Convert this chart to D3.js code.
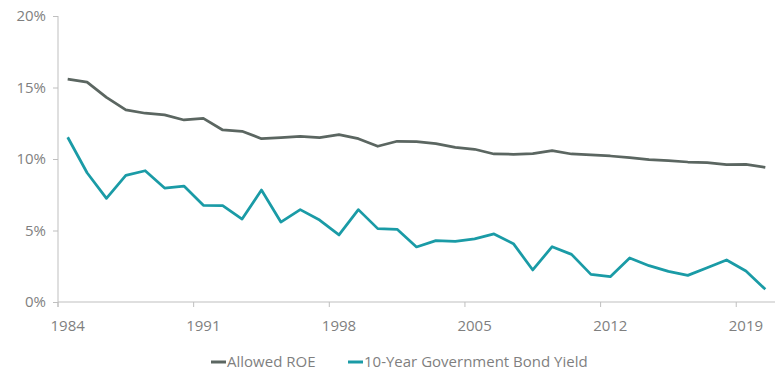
<!DOCTYPE html>
<meta charset="utf-8">
<html>
<head>
<style>
  body { margin: 0; background: #fff; }
  text { font-family: "Open Sans", sans-serif; }
</style>
</head>
<body>
<div id="chart"></div>
<script src="https://d3js.org/d3.v7.min.js"></script>
<script>
// data
var years = d3.range(1984, 2021);
var allowedRoe = [15.58, 15.38, 14.31, 13.43, 13.20, 13.08, 12.73, 12.84, 12.03, 11.94,
                  11.42, 11.49, 11.59, 11.50, 11.70, 11.42, 10.89, 11.24, 11.21, 11.07,
                  10.82, 10.68, 10.35, 10.33, 10.37, 10.58, 10.35, 10.28, 10.21, 10.09,
                  9.95, 9.88, 9.79, 9.74, 9.60, 9.63, 9.42];
var bondYield = [11.52, 9.04, 7.25, 8.86, 9.18, 7.97, 8.11, 6.76, 6.74, 5.80,
                 7.83, 5.59, 6.46, 5.73, 4.69, 6.46, 5.13, 5.08, 3.85, 4.29,
                 4.24, 4.41, 4.76, 4.08, 2.24, 3.87, 3.33, 1.93, 1.77, 3.08,
                 2.54, 2.14, 1.86, 2.40, 2.94, 2.17, 0.89];
var tickYears = [1984, 1991, 1998, 2005, 2012, 2019];
var yTicks = [0, 5, 10, 15, 20];
var seriesNames = ["Allowed ROE", "10-Year Government Bond Yield"];
var seriesColors = ["#5b6661", "#1a9ba6"];

var W = 783, H = 378;
var margin = {top: 16, right: 8, bottom: 76, left: 58};
var width = W - margin.left - margin.right,
    height = H - margin.top - margin.bottom;

var svg = d3.select("#chart").append("svg")
    .attr("width", W)
    .attr("height", H)
  .append("g")
    .attr("transform", "translate(" + margin.left + "," + margin.top + ")");

var x = d3.scaleBand().domain(years).range([0, width]);
var y = d3.scaleLinear().domain([0, 20]).range([height, 0]);

// y axis
var yAxis = svg.append("g")
    .call(d3.axisLeft(y).tickValues(yTicks).tickSize(5).tickPadding(7)
      .tickFormat(function(d) { return d + "%"; }));
yAxis.select(".domain").attr("stroke", "#bfbfbf").attr("d", "M0,0V" + (height + 5));
yAxis.selectAll(".tick line").attr("stroke", "#bfbfbf");
yAxis.selectAll(".tick text").attr("fill", "#7f7f7f").style("font-size", "15px");

// x axis: ticks at left edge of labelled category, labels centred
var xAxis = svg.append("g").attr("transform", "translate(0," + height + ")");
xAxis.append("line").attr("x1", 0).attr("x2", width).attr("stroke", "#bfbfbf");
xAxis.selectAll(".xt").data(tickYears).enter().append("line")
    .attr("x1", function(d) { return x(d); })
    .attr("x2", function(d) { return x(d); })
    .attr("y2", 5).attr("stroke", "#bfbfbf");
xAxis.selectAll(".xl").data(tickYears).enter().append("text")
    .attr("x", function(d) { return x(d) + x.bandwidth() / 2; })
    .attr("y", 29)
    .attr("text-anchor", "middle")
    .attr("fill", "#7f7f7f")
    .style("font-size", "15px")
    .text(function(d) { return d; });

var line = d3.line()
    .x(function(d, i) { return x(years[i]) + x.bandwidth() / 2; })
    .y(function(d) { return y(d); });

[allowedRoe, bondYield].forEach(function(s, i) {
  svg.append("path")
      .datum(s)
      .attr("fill", "none")
      .attr("stroke", seriesColors[i])
      .attr("stroke-width", 2.75)
      .attr("stroke-linejoin", "round")
      .attr("d", line);
});

// legend
var legend = svg.append("g").attr("transform", "translate(0," + (height + 60) + ")");
var legX = [153, 290];
seriesNames.forEach(function(name, i) {
  var g = legend.append("g").attr("transform", "translate(" + legX[i] + ",0)");
  g.append("line").attr("x1", 0).attr("x2", 15)
      .attr("stroke", seriesColors[i]).attr("stroke-width", 3);
  g.append("text").attr("x", 16).attr("y", 5)
      .attr("fill", "#7f7f7f").style("font-size", "15px")
      .text(name);
});
</script>
</body>
</html>
